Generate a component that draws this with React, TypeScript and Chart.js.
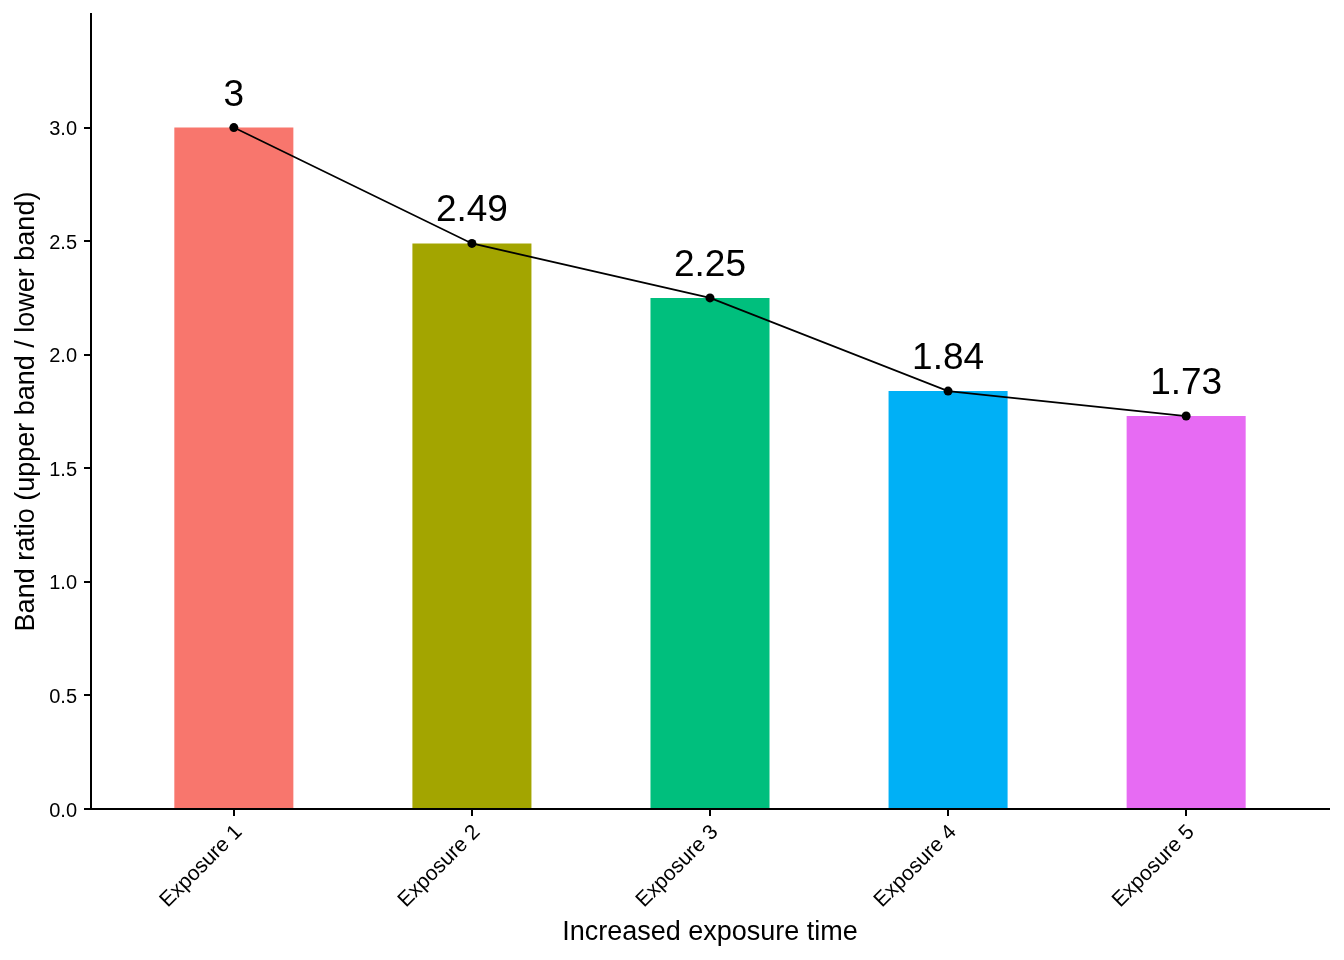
import React, { useEffect, useRef } from "react";
import { Chart, registerables } from "chart.js";

Chart.register(...registerables);

const categories = ["Exposure 1", "Exposure 2", "Exposure 3", "Exposure 4", "Exposure 5"];
const ratios = [3, 2.49, 2.25, 1.84, 1.73];
const valueLabels = ["3", "2.49", "2.25", "1.84", "1.73"];
const barColors = ["#F8766D", "#A3A500", "#00BF7D", "#00B0F6", "#E76BF3"];
const yTicks = [0, 0.5, 1, 1.5, 2, 2.5, 3];

const FONT = "'Liberation Sans', Arial, sans-serif";

const valueLabelPlugin = {
  id: "valueLabels",
  afterDatasetsDraw(chart: any) {
    const meta = chart.getDatasetMeta(0);
    const ctx = chart.ctx;
    ctx.save();
    ctx.font = `37px ${FONT}`;
    ctx.fillStyle = "#000";
    ctx.textAlign = "center";
    ctx.textBaseline = "alphabetic";
    meta.data.forEach((el: any, i: number) => {
      ctx.fillText(valueLabels[i], el.x, el.y - 22);
    });
    ctx.restore();
  },
};

export default function App() {
  const ref = useRef<HTMLCanvasElement | null>(null);

  useEffect(() => {
    document.body.style.margin = "0";
    const points = ratios.map((v, i) => ({ x: i + 1, y: v }));
    const chart = new Chart(ref.current as HTMLCanvasElement, {
      type: "bar",
      data: {
        datasets: [
          {
            type: "line",
            data: points,
            borderColor: "#000",
            borderWidth: 1.7,
            pointRadius: 4.5,
            pointBackgroundColor: "#000",
            pointBorderColor: "#000",
            pointBorderWidth: 0,
            fill: false,
            tension: 0,
            order: 0,
          } as any,
          {
            type: "bar",
            data: points,
            backgroundColor: barColors,
            borderWidth: 0,
            barPercentage: 0.5,
            categoryPercentage: 1,
            order: 1,
          } as any,
        ],
      },
      plugins: [valueLabelPlugin],
      options: {
        animation: false,
        responsive: false,
        maintainAspectRatio: false,
        layout: { padding: { top: 14, right: 15, left: 0, bottom: 0 } },
        plugins: { legend: { display: false }, tooltip: { enabled: false } },
        scales: {
          x: {
            type: "linear",
            min: 0.4,
            max: 5.6,
            offset: false,
            afterBuildTicks: (axis: any) => {
              axis.ticks = categories.map((_, i) => ({ value: i + 1 }));
            },
            afterFit: (axis: any) => {
              axis.height = 151;
              axis.paddingLeft = 0;
              axis.paddingRight = 0;
            },
            grid: {
              display: true,
              offset: false,
              drawOnChartArea: false,
              drawTicks: true,
              tickLength: 7,
              color: "#000",
              lineWidth: 2,
            },
            border: { display: true, color: "#000", width: 2 },
            ticks: {
              autoSkip: false,
              maxRotation: 45,
              minRotation: 45,
              padding: 4,
              labelOffset: 5,
              color: "#000",
              font: { family: FONT, size: 21 },
              callback: (v: any) => categories[Math.round(Number(v)) - 1] ?? "",
            },
            title: {
              display: true,
              text: "Increased exposure time",
              color: "#000",
              font: { family: FONT, size: 27, lineHeight: 1 },
              padding: { top: 0, bottom: 14 },
            },
          },
          y: {
            type: "linear",
            min: 0,
            max: 3.5,
            afterBuildTicks: (axis: any) => {
              axis.ticks = yTicks.map((v) => ({ value: v }));
            },
            afterFit: (axis: any) => {
              axis.width = 91;
              axis.paddingTop = 0;
              axis.paddingBottom = 0;
            },
            grid: {
              display: true,
              drawOnChartArea: false,
              drawTicks: true,
              tickLength: 7,
              color: "#000",
              lineWidth: 2,
            },
            border: { display: true, color: "#000", width: 2 },
            ticks: {
              padding: 7,
              labelOffset: 2,
              color: "#000",
              font: { family: FONT, size: 20 },
              callback: (v: any) => Number(v).toFixed(1),
            },
            title: {
              display: true,
              text: "Band ratio (upper band / lower band)",
              color: "#000",
              font: { family: FONT, size: 27, lineHeight: 1 },
              padding: { top: 13, bottom: 0 },
            },
          },
        },
      },
    });
    return () => chart.destroy();
  }, []);

  return (
    <div style={{ position: "absolute", left: 0, top: 0, width: 1344, height: 960 }}>
      <canvas ref={ref} width={1344} height={960} style={{ width: 1344, height: 960, display: "block" }} />
    </div>
  );
}
